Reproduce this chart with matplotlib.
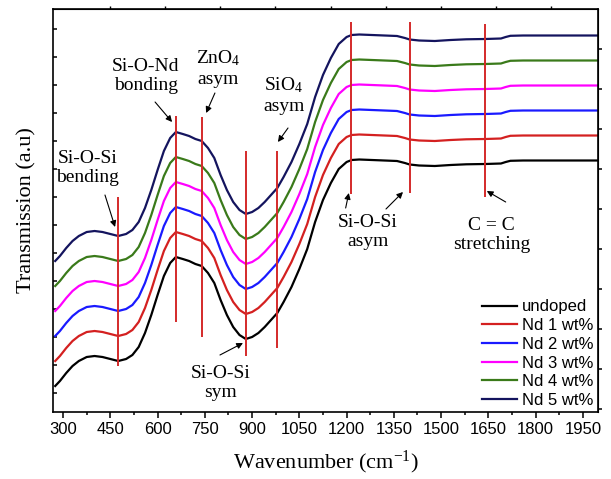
import numpy as np
import matplotlib
matplotlib.use("Agg")
import matplotlib.pyplot as plt

plt.rcParams['font.family'] = 'Liberation Serif'
plt.rcParams['mathtext.fontset'] = 'custom'
plt.rcParams['mathtext.rm'] = 'Liberation Serif'
plt.rcParams['mathtext.it'] = 'Liberation Serif:italic'

# wavenumber (cm-1) and transmission (a.u.) of the undoped sample
wavenumber = [275, 290, 310, 330, 350, 375, 400, 425, 450, 475, 500, 520, 540, 560,
              580, 600, 620, 640, 658, 680, 700, 720, 740, 760, 780, 800, 820, 840,
              860, 880, 900, 920, 940, 960, 980, 1000, 1025, 1050, 1075, 1100, 1125,
              1150, 1175, 1200, 1216, 1240, 1280, 1320, 1360, 1385, 1400, 1430, 1480,
              1530, 1580, 1640, 1690, 1705, 1720, 1760, 1998]
undoped = [26, 31, 39, 46, 51, 55, 56, 55, 53, 51, 53, 57, 65, 79,
           97, 117, 136, 149, 155, 153, 151, 148, 146, 139, 129, 112, 97, 85,
           77, 73, 75, 79, 85, 92, 99, 110, 125, 143, 163, 190, 212,
           229, 243, 250, 252, 252.5, 252, 251.5, 251, 249, 247.5, 246.5, 246,
           247, 247.7, 248, 248.5, 250, 251.2, 251.5, 251.5]

labels = ['undoped', 'Nd 1 wt%', 'Nd 2 wt%', 'Nd 3 wt%', 'Nd 4 wt%', 'Nd 5 wt%']
offsets = [0, 25, 50, 75, 100, 125]
colors = ['#000000', '#d42020', '#1a1aff', '#ff00ff', '#3a7a1a', '#14145e']

# band markers: position, bottom, top
band_pos = [475, 660, 740, 880, 980, 1215, 1400, 1640]
band_lo = [46, 90, 75, 56, 64, 218, 219, 215]
band_hi = [215, 296, 295, 261, 261, 390, 390, 388]

fig = plt.figure(figsize=(6.11, 4.79), dpi=100)
ax = fig.add_axes([53/611, 67/479, 545/611, 403/479])

x = np.array(wavenumber)
y = np.array(undoped)
for lab, off, c in zip(labels, offsets, colors):
    ax.plot(x, y + off, color=c, lw=1.6, label=lab, solid_joinstyle='round')

ax.vlines(band_pos, band_lo, band_hi, color='#d42a2a', lw=1.4)

arw = dict(arrowstyle='-|>', color='k', lw=0.8, mutation_scale=9, shrinkA=0, shrinkB=0)
fs = 14
ax.text(379, 244, 'Si-O-Si\nbending', fontsize=fs, ha='center', va='center')
ax.annotate('', xy=(465, 185), xytext=(433, 217), arrowprops=arw)
ax.text(563, 336, 'Si-O-Nd\nbonding', fontsize=fs, ha='center', va='center')
ax.annotate('', xy=(646, 290), xytext=(592, 310), arrowprops=arw)
ax.text(792, 344, 'ZnO$_4$\nasym', fontsize=fs, ha='center', va='center')
ax.annotate('', xy=(754, 299), xytext=(782, 319), arrowprops=arw)
ax.text(1001, 317, 'SiO$_4$\nasym', fontsize=fs, ha='center', va='center')
ax.annotate('', xy=(982, 270), xytext=(1014, 284), arrowprops=arw)
ax.text(801, 29, 'Si-O-Si\nsym', fontsize=fs, ha='center', va='center')
ax.annotate('', xy=(871, 69), xytext=(798, 57), arrowprops=arw)
ax.text(1268, 180, 'Si-O-Si\nasym', fontsize=fs, ha='center', va='center')
ax.annotate('', xy=(1207, 219), xytext=(1197, 204), arrowprops=arw)
ax.annotate('', xy=(1379, 220), xytext=(1325, 203), arrowprops=arw)
ax.text(1661, 177, 'C = C\nstretching', fontsize=fs, ha='center', va='center')
ax.annotate('', xy=(1645, 221), xytext=(1705, 210), arrowprops=arw)

ax.set_xlim(268, 1998)
ax.set_ylim(0, 403)
ax.set_xticks(np.arange(300, 1951, 150))
ax.set_xticks(np.arange(375, 1990, 150), minor=True)
ax.set_yticks(np.arange(19, 403, 28))
ax.tick_params(axis='x', which='major', direction='out', length=4, width=1.1,
               labelsize=12, labelfontfamily='Liberation Sans')
ax.tick_params(axis='x', which='minor', direction='out', length=2.5, width=1.1)
ax.tick_params(axis='y', direction='in', length=3, width=1.1, labelleft=False)
for s in ax.spines.values():
    s.set_linewidth(1.2)

top = ax.secondary_xaxis('top')
top.set_xticks(np.arange(449, 1990, 175))
top.tick_params(direction='out', length=2, width=1, labeltop=False)
right = ax.secondary_yaxis('right')
right.set_yticks(np.arange(3, 403, 40))
right.tick_params(direction='out', length=3, width=1.1, labelright=False)

ax.set_xlabel('Wavenumber (cm$^{-1}$)', fontsize=16, labelpad=8)
ax.set_ylabel('Transmission (a.u)', fontsize=16, labelpad=12)

leg = ax.legend(loc='lower right', frameon=False,
                prop={'family': 'Liberation Sans', 'size': 12},
                handlelength=2.1, handletextpad=0.3, labelspacing=0.22,
                borderaxespad=0.15, borderpad=0.1)

fig.savefig('out.png', dpi=100)
